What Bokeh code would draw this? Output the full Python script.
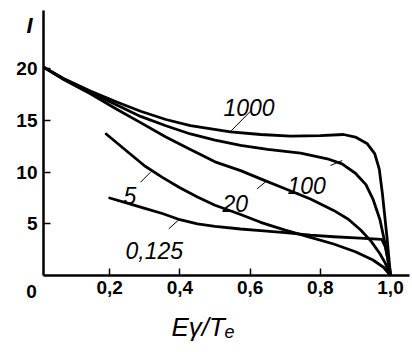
from bokeh.plotting import figure
from bokeh.models import Label, Arrow, FixedTicker, CustomJSTickFormatter
from bokeh.embed import file_html
from bokeh.resources import INLINE

# ---- data ----
x_1000 = [0, 0.07, 0.145, 0.22, 0.288, 0.36, 0.43, 0.544, 0.63, 0.715, 0.8, 0.866, 0.9, 0.934, 0.955, 0.968, 0.977, 0.99, 1.0]
I_1000 = [20.4, 19.05, 17.85, 16.8, 15.9, 15.1, 14.5, 13.9, 13.65, 13.5, 13.55, 13.65, 13.4, 12.75, 11.8, 10.3, 7.9, 3.7, 0.0]

x_100 = [0, 0.07, 0.145, 0.22, 0.288, 0.36, 0.43, 0.5, 0.573, 0.65, 0.744, 0.82, 0.862, 0.9, 0.93, 0.95, 0.97, 0.985, 1.0]
I_100 = [20.4, 19.0, 17.75, 16.5, 15.4, 14.5, 13.7, 13.1, 12.6, 12.2, 11.85, 11.3, 10.8, 9.9, 8.8, 7.4, 5.4, 3.0, 0.0]

x_20 = [0, 0.07, 0.145, 0.22, 0.288, 0.36, 0.43, 0.5, 0.573, 0.63, 0.7, 0.772, 0.838, 0.88, 0.915, 0.945, 0.97, 0.985, 1.0]
I_20 = [20.4, 18.95, 17.6, 16.1, 14.8, 13.4, 12.2, 11.0, 10.15, 9.35, 8.4, 7.4, 6.3, 5.45, 4.4, 3.3, 2.1, 1.2, 0.0]

x_5 = [0.19, 0.25, 0.3, 0.35, 0.4, 0.45, 0.5, 0.573, 0.63, 0.7, 0.772, 0.838, 0.9, 0.95, 0.98, 1.0]
I_5 = [13.7, 12.0, 10.6, 9.5, 8.5, 7.6, 6.8, 5.9, 5.15, 4.4, 3.7, 3.05, 2.3, 1.5, 0.8, 0.0]

x_0125 = [0.2, 0.25, 0.3, 0.35, 0.4, 0.45, 0.5, 0.573, 0.63, 0.7, 0.772, 0.838, 0.9, 0.975, 0.985, 0.993, 1.0]
I_0125 = [7.5, 7.0, 6.5, 6.0, 5.4, 5.0, 4.75, 4.5, 4.35, 4.15, 3.9, 3.75, 3.65, 3.5, 2.8, 1.5, 0.0]

series = [
    ("1000", x_1000, I_1000),
    ("100", x_100, I_100),
    ("20", x_20, I_20),
    ("5", x_5, I_5),
    ("0,125", x_0125, I_0125),
]

x_ticks = [0.2, 0.4, 0.6, 0.8, 1.0]
y_ticks = [5, 10, 15, 20]

# ---- layout helpers (pixel -> data, for annotations only) ----
X0, KX = 39.0, 351.0
Y0, KY = 275.0, 10.33

def dx(px):
    return (px - X0) / KX

def dy(py):
    return (Y0 - py) / KY

p = figure(width=412, height=352,
           x_range=(dx(43), dx(409)), y_range=(0, dy(10)),
           output_backend="svg", toolbar_location=None,
           min_border_left=43, min_border_right=3,
           min_border_top=10, min_border_bottom=77)
p.outline_line_color = None
p.grid.visible = False
p.background_fill_color = "white"

for name, xs, ys in series:
    p.line(xs, ys, line_color="black", line_width=2.8,
           line_join="round", line_cap="round")

TICK_FONT = "Liberation Sans"
for ax in (p.xaxis[0], p.yaxis[0]):
    ax.axis_line_width = 2.5
    ax.axis_line_color = "black"
    ax.major_tick_in = 7
    ax.major_tick_out = 0
    ax.major_tick_line_width = 1.5
    ax.minor_tick_line_color = None
    ax.major_label_text_font = TICK_FONT
    ax.major_label_text_font_style = "bold"
    ax.major_label_text_font_size = "19px"
    ax.major_label_text_color = "black"

p.xaxis.ticker = FixedTicker(ticks=x_ticks)
p.yaxis.ticker = FixedTicker(ticks=y_ticks)
p.xaxis.formatter = CustomJSTickFormatter(code="return tick.toFixed(1).replace('.', ',');")
p.yaxis.formatter = CustomJSTickFormatter(code="return String(tick);")
p.xaxis.major_label_standoff = 5
p.yaxis.major_label_standoff = 6

def side_label(side, text, px, py, style, size, align="left", font="Liberation Sans"):
    p.add_layout(Label(x=dx(px), y=dy(py), text=text, text_align=align,
                       text_baseline="middle", text_font=font,
                       text_font_style=style, text_font_size=size,
                       text_color="black"), side)

# axis title I (left of the y axis, at its top)
side_label("left", "I", 29, 25, "bold italic", "22px", align="center")
# origin "0"
side_label("below", "0", 31, 290.5, "bold", "19px", align="center", font=TICK_FONT)
# x axis title
side_label("below", "Eγ/Tₑ", 171, 326, "italic", "26px")

# curve labels
curve_labels = [("1000", 223, 107), ("100", 287, 185), ("20", 222, 203),
                ("5", 123, 195), ("0,125", 125, 250)]
for t, px, py in curve_labels:
    p.add_layout(Label(x=dx(px), y=dy(py), text=t, text_align="left",
                       text_baseline="alphabetic", text_font="Liberation Sans",
                       text_font_style="italic", text_font_size="23px",
                       text_color="black"))

# leader lines
leaders = [((250, 110.7), (229.3, 131.7)),
           ((330, 165), (341.7, 160)),
           ((256.7, 188.3), (266.7, 180)),
           ((140, 181.7), (150, 171.7)),
           ((168.3, 228.3), (178.3, 219.3))]
for (ax_, ay_), (bx_, by_) in leaders:
    p.add_layout(Arrow(x_start=dx(ax_), y_start=dy(ay_), x_end=dx(bx_), y_end=dy(by_),
                       end=None, line_width=1, line_color="black"))

open("out.html", "w").write(file_html(p, INLINE))
